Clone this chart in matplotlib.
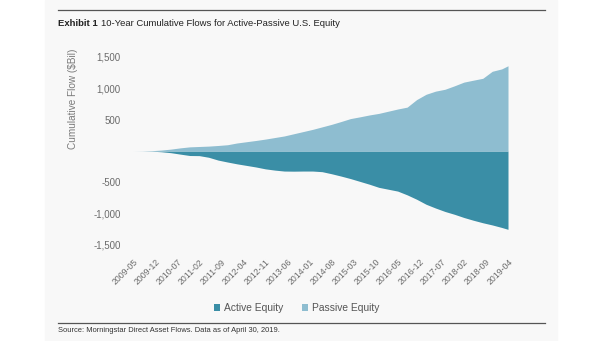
import matplotlib.pyplot as plt
import matplotlib.patches as mpatches
import pandas as pd

plt.rcParams['font.family'] = ['Liberation Sans', 'DejaVu Sans']

# quarterly readings, 2009-05 .. 2019-02, plus the last month 2019-04
dates = list(pd.date_range('2009-05-01', '2019-02-01', freq='3MS')) + [pd.Timestamp('2019-04-01')]
passive = [0, 2, 5, 15, 30, 50, 66, 72, 78, 88,
           100, 128, 148, 168, 190, 215, 240, 275, 310, 345,
           385, 425, 470, 517, 545, 575, 600, 635, 670, 700,
           820, 905, 955, 985, 1040, 1099, 1130, 1160, 1272, 1310,
           1360]
active = [0, 0, -3, -12, -27, -50, -72, -74, -100, -145,
          -176, -205, -230, -255, -285, -305, -320, -322, -320, -320,
          -330, -363, -400, -440, -485, -530, -580, -610, -640, -700,
          -770, -850, -910, -965, -1010, -1061, -1105, -1145, -1180, -1220,
          -1250]
tick_labels = ['2009-05', '2009-12', '2010-07', '2011-02', '2011-09', '2012-04',
               '2012-11', '2013-06', '2014-01', '2014-08', '2015-03', '2015-10',
               '2016-05', '2016-12', '2017-07', '2018-02', '2018-09', '2019-04']
y_ticks = [-1500, -1000, -500, 0, 500, 1000, 1500]

ACTIVE_COLOR = '#3a8ea6'
PASSIVE_COLOR = '#8ebdd0'
TEXT_GREY = '#6b6b6b'

def monthIndex(d):
  d = pd.Timestamp(d)
  return (d.year - 2009) * 12 + d.month - 5

x = [monthIndex(d) for d in dates]
tick_pos = [monthIndex(t + '-01') for t in tick_labels]

W, H = 605, 341
fig = plt.figure(figsize=(6.05, 3.41), dpi=100)
fig.patch.set_facecolor('white')
fig.patches.append(mpatches.Rectangle((45 / W, 0), 512 / W, 1,
                                      transform=fig.transFigure,
                                      color='#f8f8f8', zorder=-10))

ax = fig.add_axes([133 / W, 1 - 245 / H, 375 / W, 188 / H])
ax.set_facecolor('none')

ax.fill_between(x, active, 0, color=ACTIVE_COLOR, linewidth=0, label='Active Equity')
ax.fill_between(x, passive, 0, color=PASSIVE_COLOR, linewidth=0, label='Passive Equity')

ax.set_xlim(0, 119)
ax.set_ylim(-1500, 1500)
ax.set_yticks(y_ticks)
ax.set_yticklabels(['' if v == 0 else f'{v:,}' for v in y_ticks])
ax.set_xticks(tick_pos)
ax.set_xticklabels(tick_labels, rotation=45, ha='right', va='top',
                   rotation_mode='anchor')
ax.tick_params(axis='y', length=0, pad=9, labelsize=7, labelcolor=TEXT_GREY)
ax.tick_params(axis='x', length=0, pad=9, labelsize=6.3, labelcolor=TEXT_GREY)
for s in ax.spines.values():
  s.set_visible(False)

fig.text(73 / W, 1 - 99 / H, 'Cumulative Flow ($Bil)', rotation=90,
         ha='center', va='center', fontsize=7.2, color='#7a7a7a')

# title and rules
fig.add_artist(plt.Line2D([58 / W, 545 / W], [1 - 10 / H] * 2,
                          color='#555555', linewidth=0.9))
t1 = fig.text(58 / W, 1 - 23 / H, 'Exhibit 1', fontsize=6.8, fontweight='bold',
              ha='left', va='center', color='#222222')
fig.canvas.draw()
bb = t1.get_window_extent()
fig.text((bb.x1 + 3) / W, 1 - 23 / H,
         '10-Year Cumulative Flows for Active-Passive U.S. Equity',
         fontsize=6.8, ha='left', va='center', color='#222222')

fig.add_artist(plt.Line2D([58 / W, 545 / W], [1 - 323 / H] * 2,
                          color='#555555', linewidth=0.9))
fig.text(58 / W, 1 - 331 / H,
         'Source: Morningstar Direct Asset Flows. Data as of April 30, 2019.',
         fontsize=5.4, ha='left', va='center', color='#333333')

fig.legend(loc='center', bbox_to_anchor=(297 / W, 1 - 308 / H), ncols=2,
           frameon=False, fontsize=7.4, handlelength=0.6, handleheight=0.6,
           handletextpad=0.4, columnspacing=1.8, labelcolor='#555555')

plt.savefig('out.png', dpi=100, facecolor=fig.get_facecolor())
